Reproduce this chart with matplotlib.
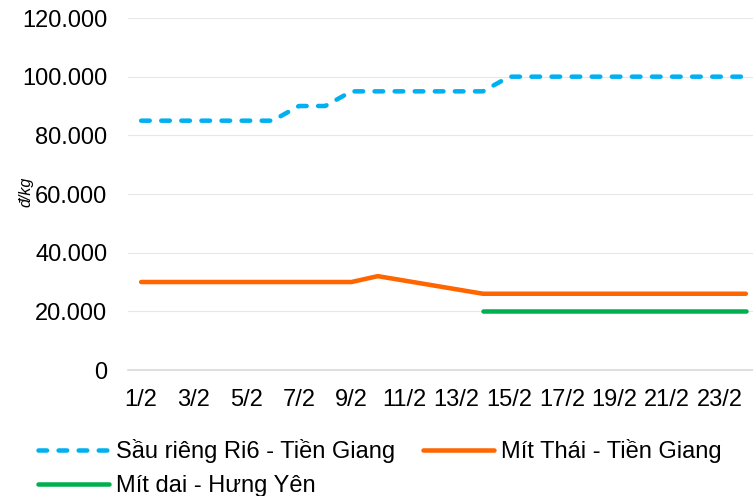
import matplotlib
matplotlib.use('Agg')
import matplotlib.pyplot as plt
import numpy as np

plt.rcParams['font.family'] = ['Liberation Sans', 'DejaVu Sans']

# ngày 1/2 .. 24/2
days = [f'{d}/2' for d in range(1, 25)]

sau_rieng = [85000] * 6 + [90000] * 2 + [95000] * 6 + [100000] * 10
mit_thai = [30000] * 9 + [32000, 30500, 29000, 27500] + [26000] * 11
mit_dai = [np.nan] * 13 + [20000] * 11

yticks = [0, 20000, 40000, 60000, 80000, 100000, 120000]
ytick_labels = ['0', '20.000', '40.000', '60.000', '80.000', '100.000', '120.000']

fig = plt.figure(figsize=(7.53, 4.96), dpi=100)
ax = fig.add_axes([0.170, 0.254, 0.838, 0.7097])

x = np.arange(len(days))
l1, = ax.plot(x, sau_rieng, color='#00B0F0', lw=3.25, dashes=(1.9, 2.55),
              dash_capstyle='round', dash_joinstyle='round', label='Sầu riêng Ri6 - Tiền Giang')
l2, = ax.plot(x, mit_thai, color='#FF6600', lw=3.25, solid_capstyle='round',
              solid_joinstyle='round', label='Mít Thái - Tiền Giang')
l3, = ax.plot(x, mit_dai, color='#00B050', lw=3.25, solid_capstyle='round',
              label='Mít dai - Hưng Yên')

ax.set_xlim(-0.5, len(days) - 0.5)
ax.set_ylim(0, 120000)
ax.set_yticks(yticks)
ax.set_yticklabels(ytick_labels, fontsize=17)
ax.set_xticks(x[::2])
ax.set_xticklabels(days[::2], fontsize=17)
ax.tick_params(axis='x', length=0, pad=14)
ax.tick_params(axis='y', length=0, pad=15)

for s in ['top', 'right', 'left']:
    ax.spines[s].set_visible(False)
ax.spines['bottom'].set_color('#d9d9d9')
ax.spines['bottom'].set_linewidth(1.2)
ax.grid(axis='y', color='#e8e8e8', lw=0.8)
ax.set_axisbelow(True)

fig.text(0.035, 0.613, 'đ/kg', rotation=90, fontsize=11.5, style='italic',
         ha='center', va='center')

fig.legend([l1, l3, l2], [l1.get_label(), l3.get_label(), l2.get_label()],
           ncol=2, loc='upper left', bbox_to_anchor=(0.0505, 0.115),
           frameon=False, fontsize=17, handlelength=3.0, handletextpad=0.3,
           columnspacing=1.2, labelspacing=0.5, borderaxespad=0, borderpad=0)

fig.savefig('out.png', dpi=100)
